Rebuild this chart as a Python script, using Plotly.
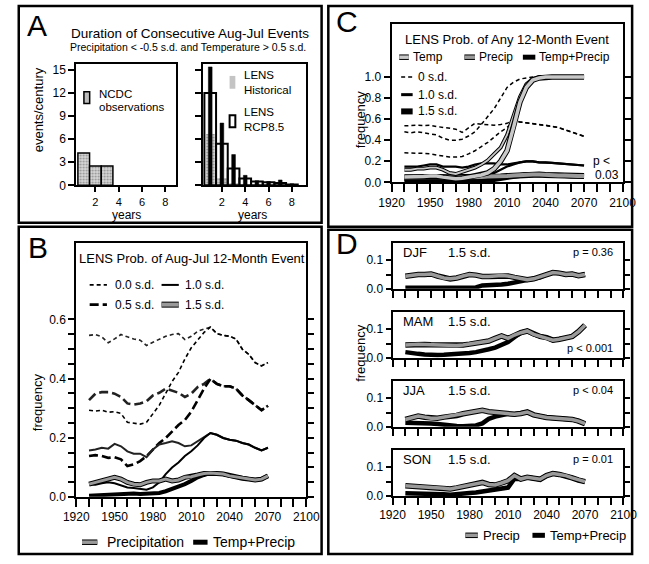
import plotly.graph_objects as go

W, H = 649, 564
FONT = "Liberation Sans"

# ---------------- data ----------------
years = [1930, 1935, 1940, 1945, 1950, 1955, 1960, 1965, 1970, 1975, 1980, 1985, 1990, 1995,
         2000, 2005, 2010, 2015, 2020, 2025, 2030, 2035, 2040, 2045, 2050, 2055, 2060, 2065, 2070]

# Panel A: duration histograms (events per century)
dur = [1, 2, 3, 4, 5, 6, 7, 8]
ncdc_dur = [1, 2, 3]
ncdc_rate = [4.2, 2.5, 2.5]
hist_rate = [6.7, 1.0, 0.3, 0.1, 0.0, 0.0, 0.0, 0.0]
rcp_rate = [12.0, 5.4, 2.2, 0.9, 0.5, 0.4, 0.3, 0.1]
rcp_upper = [15.4, 8.1, 4.0, 1.3, 0.6, 0.5, 0.7, 0.2]
a_yticks = [0, 3, 6, 9, 12, 15]
a_xticks = [2, 4, 6, 8]

# Panel B: Aug-Jul 12-month event frequency
b_p00 = [0.546, 0.549, 0.541, 0.521, 0.534, 0.549, 0.541, 0.534, 0.530, 0.512, 0.523, 0.534, 0.543, 0.549,
         0.552, 0.532, 0.543, 0.560, 0.566, 0.574, 0.552, 0.546, 0.543, 0.534, 0.499, 0.482, 0.454, 0.443, 0.454]
b_tp00 = [0.293, 0.290, 0.293, 0.286, 0.288, 0.282, 0.252, 0.249, 0.246, 0.252, 0.282, 0.310, 0.350, 0.390,
          0.421, 0.466, 0.504, 0.530, 0.556, 0.574, 0.552, 0.546, 0.543, 0.534, 0.499, 0.482, 0.454, 0.443, 0.454]
b_p05 = [0.327, 0.349, 0.354, 0.354, 0.349, 0.338, 0.316, 0.312, 0.316, 0.323, 0.343, 0.352, 0.366, 0.360,
         0.352, 0.338, 0.349, 0.371, 0.382, 0.399, 0.382, 0.374, 0.374, 0.366, 0.343, 0.327, 0.310, 0.293, 0.308]
b_tp05 = [0.138, 0.141, 0.138, 0.132, 0.134, 0.127, 0.104, 0.110, 0.121, 0.138, 0.160, 0.182, 0.199, 0.221,
          0.243, 0.260, 0.288, 0.327, 0.366, 0.399, 0.382, 0.374, 0.374, 0.366, 0.343, 0.327, 0.310, 0.293, 0.308]
b_p10 = [0.157, 0.160, 0.166, 0.163, 0.179, 0.171, 0.154, 0.146, 0.146, 0.134, 0.160, 0.177, 0.182, 0.188,
         0.182, 0.171, 0.174, 0.188, 0.204, 0.216, 0.210, 0.199, 0.193, 0.190, 0.182, 0.177, 0.166, 0.157, 0.166]
b_tp10 = [0.043, 0.041, 0.046, 0.049, 0.046, 0.038, 0.032, 0.030, 0.027, 0.024, 0.032, 0.049, 0.077, 0.099,
          0.116, 0.138, 0.154, 0.174, 0.199, 0.216, 0.210, 0.199, 0.193, 0.190, 0.182, 0.177, 0.166, 0.157, 0.166]
b_p15 = [0.043, 0.049, 0.054, 0.060, 0.066, 0.060, 0.049, 0.043, 0.041, 0.049, 0.054, 0.054, 0.060, 0.054,
         0.057, 0.066, 0.068, 0.074, 0.079, 0.081, 0.079, 0.077, 0.071, 0.068, 0.063, 0.060, 0.057, 0.060, 0.071]
b_tp15 = [0.004, 0.005, 0.007, 0.008, 0.010, 0.011, 0.012, 0.011, 0.010, 0.010, 0.010, 0.013, 0.019, 0.026,
          0.034, 0.043, 0.054, 0.066, 0.074, 0.081, 0.079, 0.077, 0.071, 0.068, 0.063, 0.060, 0.057, 0.060, 0.071]

# Panel C: any 12-month event
c_t0 = [0.48, 0.47, 0.48, 0.47, 0.46, 0.45, 0.42, 0.40, 0.40, 0.41, 0.44, 0.48, 0.55, 0.62,
        0.70, 0.80, 0.90, 0.95, 0.98, 0.99, 1.0, 1.0, 1.0, 1.0, 1.0, 1.0, 1.0, 1.0, 1.0]
c_p0 = [0.536, 0.540, 0.542, 0.540, 0.542, 0.530, 0.520, 0.510, 0.505, 0.474, 0.520, 0.560, 0.551, 0.550,
        0.542, 0.550, 0.560, 0.590, 0.573, 0.565, 0.560, 0.550, 0.542, 0.530, 0.520, 0.500, 0.480, 0.455, 0.437]
c_tp0 = [0.28, 0.28, 0.275, 0.275, 0.27, 0.26, 0.25, 0.24, 0.24, 0.245, 0.27, 0.30, 0.34, 0.38,
         0.43, 0.48, 0.52, 0.58, 0.573, 0.565, 0.560, 0.550, 0.542, 0.530, 0.520, 0.500, 0.480, 0.455, 0.437]
c_t10 = [0.12, 0.12, 0.13, 0.13, 0.14, 0.14, 0.12, 0.09, 0.08, 0.10, 0.12, 0.14, 0.17, 0.21,
         0.27, 0.33, 0.45, 0.63, 0.81, 0.93, 0.98, 1.0, 1.0, 1.0, 1.0, 1.0, 1.0, 1.0, 1.0]
c_t15 = [0.05, 0.05, 0.05, 0.055, 0.06, 0.06, 0.05, 0.04, 0.035, 0.04, 0.05, 0.06, 0.07, 0.09,
         0.13, 0.20, 0.30, 0.52, 0.76, 0.90, 0.97, 0.99, 1.0, 1.0, 1.0, 1.0, 1.0, 1.0, 1.0]
c_p10 = [0.15, 0.15, 0.15, 0.16, 0.17, 0.17, 0.15, 0.15, 0.15, 0.14, 0.15, 0.17, 0.18, 0.18,
         0.18, 0.17, 0.17, 0.18, 0.19, 0.20, 0.20, 0.19, 0.19, 0.185, 0.18, 0.175, 0.17, 0.16, 0.16]
c_tp10 = [0.03, 0.03, 0.035, 0.035, 0.035, 0.03, 0.03, 0.025, 0.025, 0.025, 0.03, 0.04, 0.05, 0.07,
          0.09, 0.12, 0.15, 0.17, 0.19, 0.20, 0.20, 0.19, 0.19, 0.185, 0.18, 0.175, 0.17, 0.16, 0.16]
c_p15 = [0.045, 0.045, 0.05, 0.05, 0.05, 0.05, 0.045, 0.045, 0.045, 0.045, 0.05, 0.05, 0.05, 0.055,
         0.055, 0.055, 0.06, 0.065, 0.07, 0.075, 0.075, 0.075, 0.07, 0.07, 0.065, 0.065, 0.06, 0.06, 0.06]
c_tp15 = [0.005, 0.006, 0.007, 0.008, 0.01, 0.01, 0.008, 0.006, 0.005, 0.006, 0.008, 0.01, 0.015, 0.02,
          0.028, 0.035, 0.045, 0.055, 0.065, 0.075, 0.075, 0.075, 0.07, 0.07, 0.065, 0.065, 0.06, 0.06, 0.06]

# Panel D: seasonal 1.5 s.d. events
seasons = ["DJF", "MAM", "JJA", "SON"]
season_p = ["p = 0.36", "p &lt; 0.001", "p &lt; 0.04", "p = 0.01"]
d_precip = {
    "DJF": [0.044, 0.048, 0.05, 0.05, 0.052, 0.045, 0.038, 0.035, 0.038, 0.045, 0.05, 0.048, 0.043, 0.043,
            0.045, 0.047, 0.045, 0.04, 0.035, 0.032, 0.035, 0.042, 0.05, 0.057, 0.055, 0.05, 0.052, 0.046, 0.05],
    "MAM": [0.045, 0.047, 0.048, 0.047, 0.046, 0.045, 0.045, 0.044, 0.043, 0.045, 0.048, 0.052, 0.056, 0.059,
            0.068, 0.077, 0.068, 0.08, 0.088, 0.094, 0.082, 0.075, 0.071, 0.062, 0.065, 0.07, 0.075, 0.092, 0.114],
    "JJA": [0.026, 0.032, 0.038, 0.034, 0.03, 0.03, 0.034, 0.036, 0.04, 0.046, 0.05, 0.054, 0.058, 0.053,
            0.05, 0.048, 0.046, 0.044, 0.047, 0.052, 0.042, 0.036, 0.033, 0.031, 0.03, 0.028, 0.026, 0.02, 0.011],
    "SON": [0.035, 0.034, 0.033, 0.032, 0.031, 0.029, 0.027, 0.024, 0.028, 0.033, 0.038, 0.042, 0.047, 0.04,
            0.038, 0.045, 0.053, 0.071, 0.059, 0.065, 0.06, 0.058, 0.071, 0.078, 0.075, 0.071, 0.063, 0.055, 0.05],
}
d_tp = {
    "DJF": [0.004, 0.004, 0.005, 0.005, 0.004, 0.003, 0.002, 0.002, 0.002, 0.003, 0.003, 0.005, 0.012, 0.013,
            0.012, 0.015, 0.018, 0.022, 0.026, 0.03, 0.035, 0.04, 0.05, 0.057, 0.055, 0.05, 0.052, 0.046, 0.05],
    "MAM": [0.02, 0.016, 0.014, 0.012, 0.01, 0.01, 0.011, 0.012, 0.014, 0.015, 0.017, 0.02, 0.024, 0.03,
            0.036, 0.045, 0.055, 0.072, 0.088, 0.094, 0.082, 0.075, 0.071, 0.062, 0.065, 0.07, 0.075, 0.092, 0.114],
    "JJA": [0.014, 0.014, 0.014, 0.013, 0.012, 0.01, 0.007, 0.005, 0.003, 0.002, 0.003, 0.005, 0.012, 0.028,
            0.036, 0.042, 0.046, 0.044, 0.047, 0.052, 0.042, 0.036, 0.033, 0.031, 0.03, 0.028, 0.026, 0.02, 0.011],
    "SON": [0.009, 0.009, 0.009, 0.008, 0.008, 0.008, 0.006, 0.004, 0.005, 0.008, 0.01, 0.012, 0.015, 0.018,
            0.022, 0.025, 0.029, 0.06, 0.059, 0.065, 0.06, 0.058, 0.071, 0.078, 0.075, 0.071, 0.063, 0.055, 0.05],
}

year_ticks = list(range(1920, 2101, 10))
year_text = [str(v) if (v - 1920) % 30 == 0 else "" for v in year_ticks]
b_yticks = [round(0.05 * i, 2) for i in range(13)]
b_ytext = ["0.0", "", "", "", "0.2", "", "", "", "0.4", "", "", "", "0.6"]
c_yticks = [0.0, 0.2, 0.4, 0.6, 0.8, 1.0]
c_ytext = ["0.0", "0.2", "0.4", "0.6", "0.8", "1.0"]
d_yticks = [0.0, 0.05, 0.1]
d_ytext = ["0.0", "", "0.1"]


# ---------------- helpers ----------------
def px(x):
    return x / W


def py(y):
    return 1 - y / H


def dx(a, b):
    return [a / W, b / W]


def dy(top, bottom):
    return [1 - bottom / H, 1 - top / H]


def axis(domain, rng, tickvals, ticktext, anchor, mirror=True, ticklen=5, labels=True, fs=12):
    return dict(domain=domain, range=rng, tickmode="array", tickvals=tickvals, ticktext=ticktext,
                ticks="outside", ticklen=ticklen, tickwidth=2, tickcolor="black",
                showline=True, linewidth=2, linecolor="black", mirror=mirror,
                showgrid=False, zeroline=False, anchor=anchor, showticklabels=labels,
                tickfont=dict(size=fs, family=FONT, color="black"), fixedrange=True)


fig = go.Figure()
STIP_P = "#9a9a9a"
STIP_T = "#c8c8c8"


def add_line(xa, ya, y, color, width, dash="solid", edge=None):
    if edge:
        fig.add_trace(go.Scatter(x=years, y=y, mode="lines", xaxis=xa, yaxis=ya, hoverinfo="skip",
                                 line=dict(color=edge, width=width + 2, dash=dash)))
    fig.add_trace(go.Scatter(x=years, y=y, mode="lines", xaxis=xa, yaxis=ya, hoverinfo="skip",
                             line=dict(color=color, width=width, dash=dash)))


# ---------------- Panel A ----------------
stip = dict(shape=".", fgcolor="#444444", bgcolor="#d8d8d8", size=3, solidity=0.35)
fig.add_trace(go.Bar(x=ncdc_dur, y=ncdc_rate, width=1.0, xaxis="x", yaxis="y", hoverinfo="skip",
                     marker=dict(color="#d8d8d8", pattern=stip, line=dict(color="black", width=1.5))))
fig.add_trace(go.Bar(x=dur, y=hist_rate, width=0.8, xaxis="x2", yaxis="y2", hoverinfo="skip",
                     marker=dict(color="#d8d8d8", pattern=stip, line=dict(width=0))))
fig.add_trace(go.Bar(x=dur, y=rcp_rate, width=1.0, xaxis="x2", yaxis="y2", hoverinfo="skip",
                     marker=dict(color="rgba(0,0,0,0)", line=dict(color="black", width=2))))
fig.add_trace(go.Bar(x=dur, y=rcp_upper, width=0.32, xaxis="x2", yaxis="y2", hoverinfo="skip",
                     marker=dict(color="black", line=dict(color="black", width=0.5))))

# ---------------- Panel B ----------------
D00, D05 = "4px,3px", "9px,4px"
add_line("x3", "y3", b_p00, "#222222", 1.6, D00)
add_line("x3", "y3", b_tp00, "black", 1.6, D00)
add_line("x3", "y3", b_p05, "#222222", 2.6, D05)
add_line("x3", "y3", b_tp05, "black", 2.6, D05)
add_line("x3", "y3", b_p10, "#222222", 2)
add_line("x3", "y3", b_tp10, "black", 2)
add_line("x3", "y3", b_tp15, "black", 4)
add_line("x3", "y3", b_p15, STIP_P, 3, edge="black")

# ---------------- Panel C ----------------
add_line("x4", "y4", c_p0, "black", 1.5, D00)
add_line("x4", "y4", c_tp0, "black", 1.5, D00)
add_line("x4", "y4", c_t0, "black", 1.5, D00)
add_line("x4", "y4", c_p10, "black", 2.2)
add_line("x4", "y4", c_tp10, "black", 2.2)
add_line("x4", "y4", c_tp15, "black", 5)
add_line("x4", "y4", c_p15, STIP_P, 4, edge="black")
add_line("x4", "y4", c_t10, STIP_T, 1.8, edge="black")
add_line("x4", "y4", c_t15, STIP_T, 3.5, edge="black")

# ---------------- Panel D ----------------
for i, s in enumerate(seasons):
    xa, ya = "x%d" % (5 + i), "y%d" % (5 + i)
    add_line(xa, ya, d_tp[s], "black", 4.5)
    add_line(xa, ya, d_precip[s], STIP_P, 3.5, edge="black")

# ---------------- axes ----------------
lay = {}
lay["xaxis"] = axis(dx(66, 170), [0.36, 8.9], a_xticks, [str(v) for v in a_xticks], "y", ticklen=5, fs=11)
lay["yaxis"] = axis(dy(64, 187), [0, 15.77], a_yticks, [str(v) for v in a_yticks], "x", ticklen=6)
lay["xaxis2"] = axis(dx(198, 306), [0.36, 9.23], a_xticks, [str(v) for v in a_xticks], "y2", ticklen=5, fs=11)
lay["yaxis2"] = axis(dy(64, 187), [0, 15.77], a_yticks, [str(v) for v in a_yticks], "x2", ticklen=6, labels=False)
lay["xaxis3"] = axis(dx(66, 306), [1920, 2100], year_ticks, year_text, "y3", ticklen=8)
lay["yaxis3"] = axis(dy(245, 503), [0, 0.86], b_yticks, b_ytext, "x3", mirror="ticks", ticklen=6)
lay["xaxis4"] = axis(dx(395, 636), [1920, 2100], year_ticks, year_text, "y4", ticklen=8)
lay["yaxis4"] = axis(dy(23, 184), [0, 1.505], c_yticks, c_ytext, "x4", mirror="ticks", ticklen=6)
d_rows = [(245, 292), (315, 362), (385, 432), (455, 502)]
for i, (t, b) in enumerate(d_rows):
    n = 5 + i
    lay["xaxis%d" % n] = axis(dx(396, 637), [1920, 2100], year_ticks, year_text, "y%d" % n,
                              ticklen=7, labels=(i == 3))
    lay["yaxis%d" % n] = axis(dy(t, b), [0, 0.162], d_yticks, d_ytext, "x%d" % n, mirror="ticks", ticklen=5)

# ---------------- annotations ----------------
ann = []


def text(x, y, s, size=11, xanchor="center", angle=0):
    ann.append(dict(x=px(x), y=py(y), xref="paper", yref="paper", text=s, showarrow=False,
                    xanchor=xanchor, yanchor="middle", textangle=angle,
                    font=dict(family=FONT, size=size, color="black")))


text(25, 25, "A", 30)
text(26, 250, "B", 30)
text(349, 21, "C", 30)
text(348, 246, "D", 30)

text(185, 33, "Duration of Consecutive Aug-Jul Events", 13.5)
text(183, 47, "Precipitation &lt; -0.5 s.d. and Temperature &gt; 0.5 s.d.", 10.5)
text(27, 110, "events/century", 13, angle=-90)
text(118, 217, "years", 12)
text(250, 217, "years", 12)
text(88, 94, "NCDC", 11.5, "left")
text(88, 108, "observations", 11.5, "left")
text(239, 75, "LENS", 11.5, "left")
text(239, 90, "Historical", 11.5, "left")
text(239, 113, "LENS", 11.5, "left")
text(239, 128, "RCP8.5", 11.5, "left")

text(187, 261, "LENS Prob. of Aug-Jul 12-Month Event", 13)
text(104, 288, "0.0 s.d.", 12, "left")
text(177, 288, "1.0 s.d.", 12, "left")
text(104, 308, "0.5 s.d.", 12, "left")
text(177, 308, "1.5 s.d.", 12, "left")
text(25, 407, "frequency", 13, angle=-90)
text(96, 549, "Precipitation", 14, "left")
text(207, 549, "Temp+Precip", 14, "left")

text(515, 39, "LENS Prob. of Any 12-Month Event", 13)
text(415, 57, "Temp", 12, "left")
text(484, 57, "Precip", 12, "left")
text(547, 57, "Temp+Precip", 12, "left")
text(420, 77, "0 s.d.", 12, "left")
text(420, 95, "1.0 s.d.", 12, "left")
text(420, 112, "1.5 s.d.", 12, "left")
text(362, 120, "frequency", 13, angle=-90)
text(603, 162, "p &lt;", 12, "left")
text(605, 177, "0.03", 12, "left")

lab_y = [255, 325, 395, 465]
p_y = [255, 352, 395, 465]
for i, s in enumerate(seasons):
    text(405, lab_y[i], s, 13, "left")
    text(452, lab_y[i], "1.5 s.d.", 13, "left")
    text(628, p_y[i], season_p[i], 11, "right")
text(363, 357, "frequency", 13, angle=-90)
text(488, 542, "Precip", 13, "left")
text(558, 542, "Temp+Precip", 13, "left")

# ---------------- shapes: panel frames and legend keys ----------------
shapes = []
for (x0, y0, x1, y1) in [(6, 5, 322, 225), (6, 229, 322, 561), (329, 5, 646, 229), (329, 232, 646, 561)]:
    shapes.append(dict(type="rect", xref="paper", yref="paper", x0=px(x0), x1=px(x1), y0=py(y1), y1=py(y0),
                       line=dict(color="black", width=2.5), fillcolor="rgba(0,0,0,0)"))


def key(x0, x1, y, color, width, dash="solid", edge=None):
    if edge:
        shapes.append(dict(type="line", xref="paper", yref="paper", x0=px(x0), x1=px(x1), y0=py(y), y1=py(y),
                           line=dict(color=edge, width=width + 2, dash=dash)))
    shapes.append(dict(type="line", xref="paper", yref="paper", x0=px(x0), x1=px(x1), y0=py(y), y1=py(y),
                       line=dict(color=color, width=width, dash=dash)))


def box(x0, y0, x1, y1, fill, lw):
    shapes.append(dict(type="rect", xref="paper", yref="paper", x0=px(x0), x1=px(x1), y0=py(y1), y1=py(y0),
                       line=dict(color="black", width=lw), fillcolor=fill))


box(74, 92, 80, 104, "#bdbdbd", 1.5)
box(226, 76, 232, 89, "#c4c4c4", 0)
box(226, 116, 232, 128, "white", 2)

key(80, 98, 288, "black", 1.6, D00)
key(155, 173, 288, "black", 2)
key(80, 98, 308, "black", 2.6, D05)
key(155, 173, 308, STIP_P, 4, edge="black")
key(72, 88, 549, STIP_P, 3.5, edge="black")
key(188, 203, 549, "black", 5)

key(403, 413, 57, STIP_T, 3.5, edge="black")
key(471, 482, 57, STIP_P, 3.5, edge="black")
key(532, 545, 57, "black", 5)
key(405, 417, 77, "black", 1.5, D00)
key(405, 417, 95, "black", 3)
key(405, 417, 112, "black", 6)

key(472, 485, 542, STIP_P, 3.5, edge="black")
key(542, 555, 542, "black", 5)

fig.update_layout(width=W, height=H, margin=dict(l=0, r=0, t=0, b=0), paper_bgcolor="white",
                  plot_bgcolor="white", showlegend=False, barmode="overlay", bargap=0,
                  hovermode=False,
                  font=dict(family=FONT, size=11, color="black"), annotations=ann, shapes=shapes, **lay)

fig.write_html("out.html", config={"displayModeBar": False, "staticPlot": True},
               post_script="document.body.style.margin='0';document.body.style.overflow='hidden';")
